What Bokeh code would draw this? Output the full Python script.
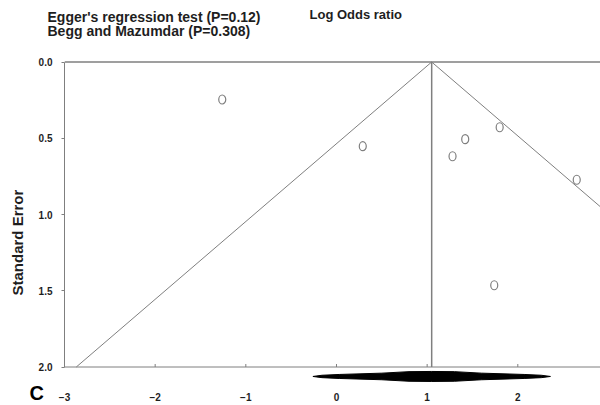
import numpy as np
from bokeh.plotting import figure
from bokeh.models import Range1d, FixedTicker, PrintfTickFormatter, Span, Title
from bokeh.embed import file_html
from bokeh.resources import INLINE

# ---- data ----
log_odds = [-1.26, 0.29, 1.28, 1.42, 1.80, 2.65, 1.74]
std_err = [0.246, 0.552, 0.618, 0.506, 0.428, 0.772, 1.464]
pooled = 1.05
se_max = 2.0
x_ticks = [-3, -2, -1, 0, 1, 2]
y_ticks = [0.0, 0.5, 1.0, 1.5, 2.0]
# combined-effect diamond profile (offsets from pooled, half-heights in px)
diamond_dx = [-1.31, -1.21, -1.02, -0.55, -0.25, 0.0, 0.25, 0.55, 1.02, 1.21, 1.31]
diamond_hh = [0.0, 1.2, 2.0, 3.3, 4.8, 5.0, 4.8, 3.3, 2.0, 1.2, 0.0]
diamond_se = 2.062
title_lines = ["Egger's regression test (P=0.12)", "Begg and Mazumdar (P=0.308)"]
x_title = "Log Odds ratio"
y_title = "Standard Error"
panel_letter = "C"

# ---- geometry ----
W, H = 600, 405
F_LEFT, F_RIGHT, F_TOP, F_BOTTOM = 62, 600, 43, 383
PX_X = 91.0
PX_SE = 152.5
SE0_PX = 61.5


def X(px):
    return (px - F_LEFT) / PX_X - 3


def Y(py):
    return (py - SE0_PX) / PX_SE


FONT = "Liberation Sans"
GRAY = "#7f7f7f"
TXT = "#1e1e1e"

p = figure(width=W, height=H,
           x_range=Range1d(X(F_LEFT), X(F_RIGHT)),
           y_range=Range1d(Y(F_BOTTOM), Y(F_TOP)),
           output_backend="svg", toolbar_location=None,
           min_border_left=F_LEFT, min_border_right=W - F_RIGHT,
           min_border_top=F_TOP, min_border_bottom=H - F_BOTTOM)
p.title.visible = False
p.outline_line_color = None
p.xgrid.grid_line_color = None
p.ygrid.grid_line_color = None
p.background_fill_color = "white"
p.border_fill_color = "white"

# y axis
ya = p.yaxis[0]
ya.bounds = (0, se_max)
ya.ticker = FixedTicker(ticks=y_ticks)
ya.formatter = PrintfTickFormatter(format="%.1f")
ya.major_tick_out = 3
ya.major_tick_in = 0
ya.minor_tick_line_color = None
ya.axis_line_color = GRAY
ya.major_tick_line_color = GRAY
ya.major_label_text_font = FONT
ya.major_label_text_font_style = "bold"
ya.major_label_text_font_size = "10px"
ya.major_label_text_color = TXT
ya.major_label_standoff = 9

# x axis (labels only; the drawn axis line sits at SE = 2.0)
xa = p.xaxis[0]
xa.ticker = FixedTicker(ticks=x_ticks)
xa.axis_line_color = None
xa.major_tick_line_color = None
xa.minor_tick_line_color = None
xa.major_tick_out = 0
xa.major_tick_in = 0
xa.major_label_text_font = FONT
xa.major_label_text_font_style = "bold"
xa.major_label_text_font_size = "10px"
xa.major_label_text_color = TXT
xa.major_label_standoff = -8

# frame lines
p.add_layout(Span(location=0, dimension="width", line_color=GRAY, line_width=1.5))
p.add_layout(Span(location=se_max, dimension="width", line_color=GRAY, line_width=1))
tx = x_ticks[1:]
p.segment(x0=tx, y0=[se_max] * len(tx), x1=tx, y1=[se_max - 3 / PX_SE] * len(tx),
          line_color=GRAY, line_width=1)

# funnel
p.line(x=[pooled - 1.96 * se_max, pooled, pooled + 1.96 * se_max],
       y=[se_max, 0, se_max], line_color=GRAY, line_width=1)
p.segment(x0=[pooled], y0=[0], x1=[pooled], y1=[se_max], line_color=GRAY, line_width=1.5)

# combined diamond
top_x = [pooled + d for d in diamond_dx]
top_y = [diamond_se - h / PX_SE for h in diamond_hh]
bot_y = [diamond_se + h / PX_SE for h in diamond_hh]
p.patch(x=top_x + top_x[::-1], y=top_y + bot_y[::-1],
        fill_color="black", line_color="black", line_width=1)

# studies
p.ellipse(x=log_odds, y=std_err, width=7, height=9,
          width_units="screen", height_units="screen",
          fill_color="white", line_color=GRAY, line_width=1.2)


# texts as titles in the side panels (not clipped to the frame)
def make_title(text, size, align, offset, standoff, valign="bottom", color=TXT):
    return Title(text=text, text_font=FONT, text_font_style="bold",
                 text_font_size=size, text_color=color, align=align,
                 vertical_align=valign, offset=offset, standoff=standoff)


# above: innermost first
p.add_layout(make_title(title_lines[1], "14px", "left", 45 - F_LEFT, 9), "above")
p.add_layout(make_title(title_lines[0], "14px", "left", 45 - F_LEFT, -16), "above")
p.add_layout(make_title(x_title, "13px", "left", 307 - F_LEFT, -14.6), "above")

# left: outside the y axis
p.add_layout(make_title(y_title, "15px", "left", F_BOTTOM - 295, 16, valign="top"), "left")

# below: panel letter first, then the x axis
t_c = make_title(panel_letter, "20px", "left", 27 - F_LEFT, -7, color="black")
p.below = [t_c] + list(p.below)

open("out.html", "w").write(file_html(p, INLINE))
